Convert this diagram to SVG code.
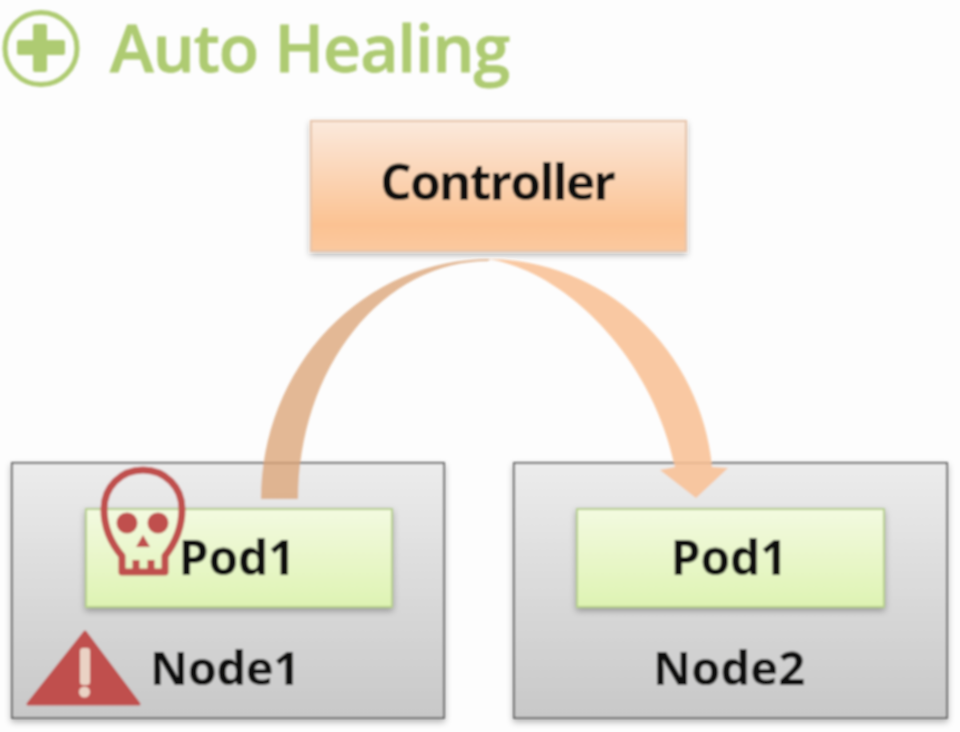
<svg xmlns="http://www.w3.org/2000/svg" width="960" height="732" viewBox="0 0 960 732">
<style>
.t{font-family:"Open Sans","Noto Sans","Liberation Sans",sans-serif;font-weight:700;fill:#0c0c08;text-anchor:middle}
.box{filter:url(#sh)}
.red{fill:#c0504d}
</style>
<defs>
<linearGradient id="gc" x1="0" y1="0" x2="0" y2="1"><stop offset="0" stop-color="#fbe9dc"/><stop offset=".8" stop-color="#fbc292"/><stop offset="1" stop-color="#fbc99f"/></linearGradient>
<linearGradient id="gn" x1="0" y1="0" x2="0" y2="1"><stop offset="0" stop-color="#ececec"/><stop offset="1" stop-color="#c8c8c8"/></linearGradient>
<linearGradient id="gp" x1="0" y1="0" x2="0" y2="1"><stop offset="0" stop-color="#f3fae0"/><stop offset="1" stop-color="#def3b3"/></linearGradient>
<filter id="sh" x="-5%" y="-5%" width="110%" height="115%"><feDropShadow dx="0" dy="3" stdDeviation="3" flood-color="#000" flood-opacity=".3"/></filter>
<filter id="soft" filterUnits="userSpaceOnUse" x="0" y="0" width="960" height="732"><feGaussianBlur stdDeviation=".8"/></filter>
</defs>
<rect width="960" height="732" fill="#fdfdfd"/>
<g filter="url(#soft)">
<g id="title">
<circle cx="41" cy="48.500" r="36" fill="none" stroke="#aecb72" stroke-width="5"/>
<path d="M33 26Q33 24 35 24H45Q47 24 47 26V40H63Q65 40 65 42V53Q65 55 63 55H47V70Q47 72 45 72H35Q33 72 33 70V55H19Q17 55 17 53V42Q17 40 19 40H33Z" fill="#aecb72"/>
<text x="310" y="72" font-family="'Open Sans','Noto Sans','Liberation Sans',sans-serif" font-weight="600" font-size="66" stroke="#aecb72" stroke-width=".8" fill="#aecb72" text-anchor="middle" textLength="400" lengthAdjust="spacing">Auto Healing</text>
</g>
<g id="node-controller">
<rect class="box" x="311" y="121" width="375" height="130" fill="url(#gc)" stroke="#e6c3a8" stroke-width="2"/>
<text class="t" x="498" y="200" font-size="50" textLength="236" lengthAdjust="spacing">Controller</text>
</g>
<g id="node-node1">
<rect class="box" x="12" y="463" width="432" height="255" fill="url(#gn)" stroke="#666" stroke-width="2"/>
<text class="t" x="225" y="685" font-size="47" textLength="150" lengthAdjust="spacing">Node1</text>
</g>
<g id="node-node2">
<rect class="box" x="514" y="463" width="433" height="255" fill="url(#gn)" stroke="#666" stroke-width="2"/>
<text class="t" x="729" y="685" font-size="47" textLength="152" lengthAdjust="spacing">Node2</text>
</g>
<g id="connectors">
<path d="M261 499A229 240 0 0 1 490 259L488 261A190 238 0 0 0 298 499Z" fill="#dca67a" fill-opacity=".8"/>
<path d="M488 259A226 230 0 0 1 712 467L728 468L696 498L660 470L675 467C650 350 560 270 488 259Z" fill="#f8c095" fill-opacity=".88"/>
</g>
<g id="node-pod1">
<rect class="box" x="86" y="509" width="306" height="98" fill="url(#gp)" stroke="#b6cf8a" stroke-width="2"/>
<text class="t" x="237" y="575" font-size="48" textLength="117" lengthAdjust="spacing">Pod1</text>
</g>
<g id="node-pod2">
<rect class="box" x="577" y="509" width="307" height="98" fill="url(#gp)" stroke="#b6cf8a" stroke-width="2"/>
<text class="t" x="729" y="575" font-size="48" textLength="117" lengthAdjust="spacing">Pod1</text>
</g>
<g id="skull">
<path d="M122 556C110 542 104 526 104 509C104 487 121 470 143 470C165 470 182 487 182 509C182 526 176 542 165 556V572H122ZM136 560V572M151 560V572" fill="none" stroke="#c0504d" stroke-width="7" stroke-linejoin="round"/>
<circle class="red" cx="127" cy="523" r="10.500"/>
<circle class="red" cx="158" cy="523" r="10.500"/>
<path class="red" d="M143 535L150 547H136Z"/>
</g>
<g id="warning">
<path class="red" d="M85 632L139 704H28Z" stroke="#c0504d" stroke-width="3" stroke-linejoin="round"/>
<rect x="80" y="648" width="10" height="37" rx="3" fill="#ead2c4"/>
<circle cx="84.500" cy="692" r="5.500" fill="#ead2c4"/>
</g>
</g>
</svg>
